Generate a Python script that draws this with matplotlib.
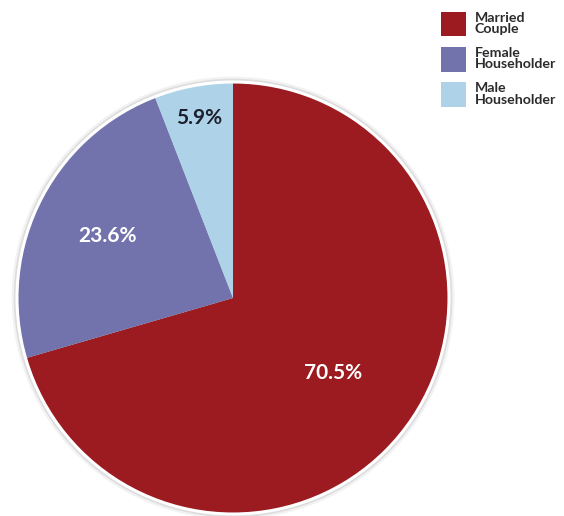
import matplotlib.pyplot as plt
from matplotlib.patches import Circle
import numpy as np

# Data
labels = ["Married\nCouple", "Female\nHouseholder", "Male\nHouseholder"]
shares = [70.5, 23.6, 5.9]
colors = ["#9b1b20", "#7273ad", "#aed3e8"]
text_colors = ["white", "white", "#1c1f2e"]
label_radius = [0.58, 0.65, 0.85]

plt.rcParams['font.family'] = ['Lato', 'DejaVu Sans']

fig = plt.figure(figsize=(5.64, 5.16), dpi=100)
ax = fig.add_axes([17 / 564, 2 / 516, 432 / 564, 432 / 516])

wedges, _ = ax.pie(shares, colors=colors, startangle=90, counterclock=False,
                   wedgeprops=dict(linewidth=0))

# soft shadow and white rim
for r, a in [(1.025, 0.10), (1.015, 0.18)]:
    ax.add_patch(Circle((0, 0), r, facecolor="#808080", alpha=a, zorder=0, clip_on=False))
ax.add_patch(Circle((0, 0), 1.0, facecolor="none", edgecolor="white", linewidth=2.2,
                    zorder=5, clip_on=False))

# percentage labels
for w, val, tc, rr in zip(wedges, shares, text_colors, label_radius):
    ang = np.deg2rad((w.theta1 + w.theta2) / 2)
    ax.text(rr * np.cos(ang), rr * np.sin(ang), f"{val}%", ha="center", va="center",
            color=tc, fontsize=15, fontweight="bold", zorder=6)

ax.set_xlim(-1, 1)
ax.set_ylim(-1, 1)
ax.set_aspect("equal")
ax.axis("off")

leg = fig.legend(wedges, labels, loc="upper left", bbox_to_anchor=(435 / 564, 1 - 6 / 516),
                 frameon=False, handlelength=1.8, handleheight=2.3, handletextpad=0.6,
                 labelspacing=0.75, borderaxespad=0,
                 prop=dict(weight="bold", size=10.2))
for t in leg.get_texts():
    t.set_color("#2b2b2b")
    t.set_linespacing(0.95)

fig.savefig("out.png", dpi=100)
